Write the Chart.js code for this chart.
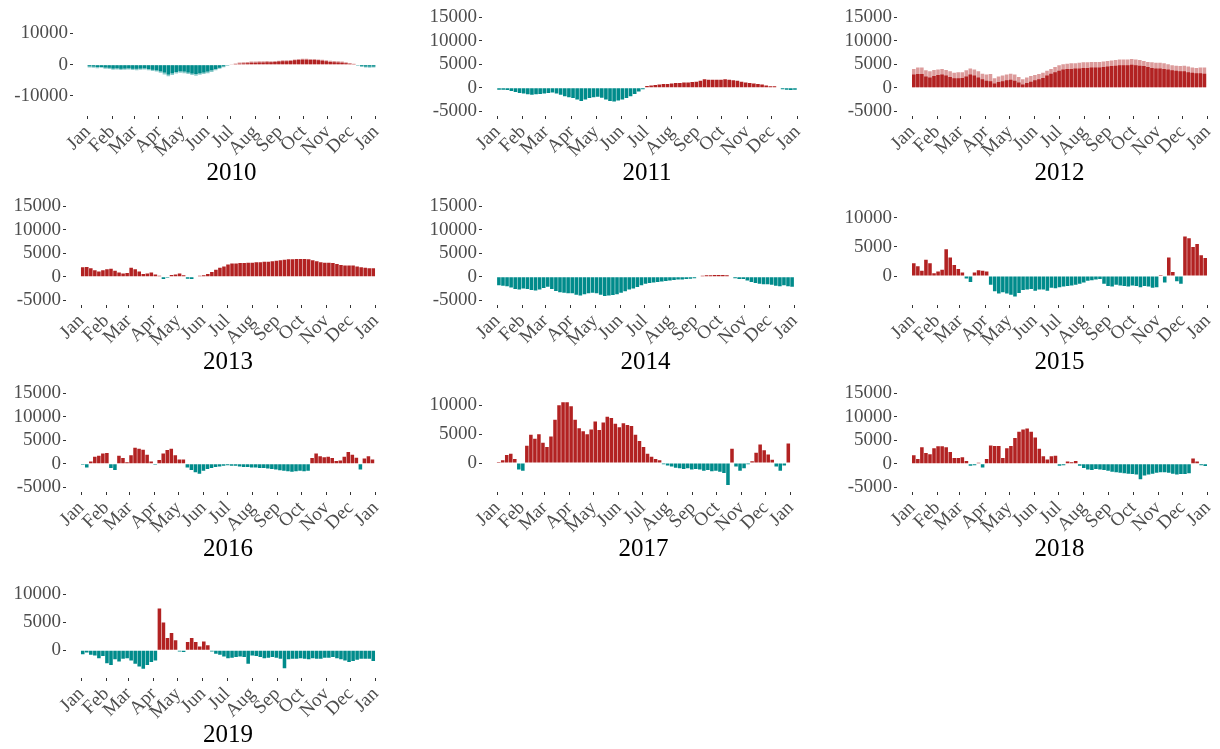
<!DOCTYPE html>
<html>
<head>
<meta charset="utf-8">
<script src="https://cdn.jsdelivr.net/npm/chart.js@4.4.1/dist/chart.umd.min.js"></script>
<style>
  html, body { margin: 0; padding: 0; background: #ffffff; }
  body { width: 1220px; height: 749px; position: relative; overflow: hidden; }
  canvas { position: absolute; }
</style>
</head>
<body>
<script>
// Month names for the x axis (13 ticks: Jan ... Dec, Jan of next year)
const monthLabels = ['Jan','Feb','Mar','Apr','May','Jun','Jul','Aug','Sep','Oct','Nov','Dec','Jan'];

// y-axis tick values
const ticksWide  = [-10000, 0, 10000];
const ticksTall  = [-5000, 0, 5000, 10000, 15000];
const ticksShort = [0, 5000, 10000];

// Values per 5-day period, 73 periods per year
const v2010 = [-900,-1000,-1100,-1000,-1300,-1400, -1600,-1500,-1700,-1600,-1500,-1700,
  -1800,-1600,-1500,-1800,-2000,-2200, -2600,-3100,-3700,-3300,-2800,-2600,
  -2700,-3000,-3300,-3500,-3200,-3000, -2700,-2300,-1800,-1300,-800,-400,
  200,400,700,800,900,1000, 1000,1100,1100,1200,1100,1200,
  1300,1400,1400,1500,1700,1800, 1900,1900,1800,1800,1700,1600,1400,
  1300,1200,1100,1000,800,500, 300,-400,-700,-900,-1000,-900];
const v2010Dense = [-500,-600,-700,-700,-900,-1000, -1200,-1100,-1300,-1200,-1100,-1300,
  -1300,-1200,-1100,-1400,-1600,-1800, -2100,-2500,-3100,-2700,-2300,-2100,
  -2200,-2500,-2800,-3000,-2700,-2500, -2200,-1800,-1400,-1000,-500,-200,
  0,100,300,400,500,600, 600,700,700,800,800,900,
  1000,1100,1100,1200,1400,1500, 1600,1600,1500,1500,1400,1300,1100,
  900,800,700,600,500,300, 100,-200,-400,-600,-600,-600];
const v2011 = [-400,-400,-500,-700,-900,-1100, -1200,-1400,-1500,-1400,-1300,-1200,
  -1100,-1000,-1200,-1500,-1800,-2000, -2200,-2500,-2800,-2500,-2200,-2000,
  -1900,-2100,-2500,-2800,-2900,-2700, -2500,-2200,-1800,-1300,-800,-300,
  400,500,600,700,800,800, 900,1000,1000,1100,1100,1200,
  1300,1500,1800,1700,1700,1700, 1700,1800,1700,1600,1500,1300,1100,
  1000,900,800,700,500,300, 300,100,-300,-400,-500,-400];
const v2012 = [4000,4300,4300,3700,3500,3800, 3900,4000,3800,3500,3200,3300,
  3300,3700,4100,3900,3500,3000, 2800,2900,2000,2400,2600,2800,
  3000,2800,2300,1800,2200,2500, 2700,2900,3200,3600,4000,4400,
  4800,5000,5100,5200,5200,5300, 5400,5400,5500,5500,5500,5600,
  5700,5800,5900,6000,6000,6000, 6100,6000,5900,5700,5500,5400,5300,
  5300,5200,5000,4800,4700,4600, 4700,4500,4300,4200,4300,4300];
const v2012Dense = [2800,2900,2900,2400,2200,2500, 2700,2800,2600,2300,2000,2000,
  2100,2400,2800,2600,2200,1800, 1500,1400,900,1200,1400,1600,
  1700,1500,1100,700,1000,1300, 1600,1800,2100,2600,3000,3300,
  3600,3900,4000,4000,4100,4100, 4200,4200,4300,4300,4300,4400,
  4500,4600,4700,4800,4800,4800, 4900,4800,4700,4600,4400,4200,4100,
  4100,4000,3900,3700,3600,3500, 3500,3300,3200,3100,3100,3000];
const v2013 = [2000,2100,1800,1400,1100,1400, 1600,1700,1300,900,700,800,
  1900,1600,1100,600,700,900, 500,200,-500,-200,400,500,
  700,300,-400,-500,100,200, 300,600,1000,1500,1900,2200,
  2600,2800,2800,2900,2900,3000, 3000,3100,3100,3200,3200,3300,
  3400,3500,3600,3700,3700,3800, 3800,3800,3700,3500,3300,3100,3000,
  3000,2900,2700,2500,2400,2400, 2400,2200,2000,1900,1800,1800];
const v2014 = [-1800,-1900,-2000,-2300,-2600,-2700, -2500,-2600,-2800,-2900,-2700,-2400,
  -2100,-2600,-3000,-3300,-3400,-3500, -3500,-3800,-4000,-3700,-3500,-3400,
  -3500,-3800,-4100,-4000,-3900,-3700, -3400,-3100,-2700,-2500,-2200,-1800,
  -1500,-1300,-1200,-1100,-1000,-900, -800,-700,-600,-600,-500,-400,
  -300,100,200,300,300,400, 400,400,300,100,-300,-500,-500,
  -800,-1100,-1300,-1500,-1600,-1600, -1700,-1900,-2000,-1800,-2000,-2100];
const v2015 = [2200,1700,900,2800,2200,500, 800,1100,4600,3200,1900,1200,
  600,-400,-1000,600,1000,900, 800,-1500,-2600,-3000,-2800,-3000,
  -3200,-3500,-2900,-2400,-2300,-2200, -2500,-2300,-2300,-2500,-2000,-2100,
  -1900,-1800,-1700,-1600,-1500,-1300, -1100,-800,-700,-600,-500,-1300,
  -1700,-1800,-1500,-1600,-1700,-1800, -1600,-1700,-1900,-1700,-1800,-2000,-1900,
  200,-1100,3200,700,-900,-1300, 6800,6500,5000,5500,3600,3100];
const v2016 = [-200,-800,500,1500,1700,2200, 2300,-900,-1300,1700,1200,300,
  1800,3400,3200,3000,1900,500, -200,800,2200,2900,3200,1800,
  900,900,-800,-1300,-1800,-2100, -1500,-1100,-900,-700,-600,-400,
  -300,-400,-400,-600,-700,-700, -800,-800,-900,-900,-1000,-1100,
  -1200,-1400,-1500,-1600,-1700,-1600, -1500,-1600,-1500,1200,2200,1600,1400,
  1500,1200,600,700,1500,2500, 1900,1300,-1200,1100,1600,900];
const v2017 = [200,500,1400,1600,700,-1100, -1300,3000,4900,4200,5000,3500,
  2800,4600,7500,10000,10500,10500, 9800,7500,6000,5500,5000,5800,
  7200,5700,7000,8000,7800,6800, 6200,6900,6600,6400,4900,3800,
  2800,1600,1100,700,500,-200, -400,-600,-800,-900,-1000,-900,
  -1100,-1000,-1100,-1300,-1200,-1400, -1300,-1500,-1700,-3800,2500,-600,-1300,
  -900,-200,300,1800,3200,2200, 1500,600,-600,-1300,-400,3400];
const v2018 = [1800,1000,3500,2300,2000,3300, 3700,3700,3500,2500,1200,1200,
  1400,600,-400,-300,200,-800, 1000,3900,3800,3800,1200,3300,
  3800,5500,6800,7300,7500,6800, 5600,3200,1600,900,1600,1700,
  -400,-300,500,300,600,-400, -900,-1200,-1300,-1100,-1200,-1300,
  -1500,-1700,-1800,-1900,-2000,-2100, -2200,-2300,-3300,-2500,-2300,-2100,-1900,
  -1800,-1800,-1900,-2100,-2300,-2200, -2200,-2000,1100,500,-300,-500];
const v2019 = [-700,-400,-800,-900,-1400,-1000, -2300,-2600,-1600,-2000,-1500,-1400,
  -1800,-2400,-2900,-3300,-2600,-2100, -1800,7500,5000,2200,3100,1800,
  -200,-300,1500,2200,1500,700, 1600,900,-200,-600,-800,-1100,
  -1400,-1300,-1200,-1100,-1200,-2400, -900,-1000,-1200,-1400,-1300,-1200,
  -1300,-1500,-3200,-1600,-1500,-1500, -1400,-1500,-1600,-1400,-1500,-1500,-1300,
  -1300,-1200,-1400,-1600,-1800,-2100, -1900,-1700,-1500,-1500,-1500,-1900];

const RED = '#B22222';
const TEAL = '#008B8B';
const RED_LIGHT = 'rgba(178,34,34,0.45)';
const TEAL_LIGHT = 'rgba(0,139,139,0.45)';
const FONT = '"Liberation Serif", "Times New Roman", serif';
const PERIOD = 5; // days per bar

// Panel frames: plot-area left/right/top in page pixels
const panels = [
  { year: 2010, series: [[v2010Dense, false], [v2010, true]], ticks: ticksWide,  yMin: -16400, yMax: 16400, L: 73,  R: 390,  T: 12 },
  { year: 2011, series: [[v2011, false]],                     ticks: ticksTall,  yMin: -6000,  yMax: 15800, L: 482, R: 812,  T: 12 },
  { year: 2012, series: [[v2012Dense, false], [v2012, true]], ticks: ticksTall,  yMin: -6000,  yMax: 15800, L: 897, R: 1222, T: 12 },
  { year: 2013, series: [[v2013, false]],                     ticks: ticksTall,  yMin: -6000,  yMax: 15800, L: 66,  R: 390,  T: 201 },
  { year: 2014, series: [[v2014, false]],                     ticks: ticksTall,  yMin: -6000,  yMax: 15800, L: 482, R: 809,  T: 201 },
  { year: 2015, series: [[v2015, false]],                     ticks: ticksShort, yMin: -4970,  yMax: 12660, L: 897, R: 1222, T: 201 },
  { year: 2016, series: [[v2016, false]],                     ticks: ticksTall,  yMin: -6000,  yMax: 15800, L: 66,  R: 390,  T: 388 },
  { year: 2017, series: [[v2017, false]],                     ticks: ticksShort, yMin: -4990,  yMax: 12730, L: 482, R: 805,  T: 388 },
  { year: 2018, series: [[v2018, false]],                     ticks: ticksTall,  yMin: -6000,  yMax: 15800, L: 897, R: 1222, T: 388 },
  { year: 2019, series: [[v2019, false]],                     ticks: ticksShort, yMin: -4940,  yMax: 13400, L: 66,  R: 390,  T: 574 }
];

const YW = 80, PADT = 12, PADR = 14, PH = 104, XH = 42, TH = 30;

function monthStartDays(year) {
  const jan1 = Date.UTC(year, 0, 1);
  const out = [];
  for (let m = 0; m <= 12; m++) out.push(Math.round((Date.UTC(year, m, 1) - jan1) / 86400000));
  return out;
}

function toPoints(vals) {
  return vals.map((v, i) => ({ x: PERIOD * i + (PERIOD - 1) / 2, y: v }));
}

panels.forEach(p => {
  const canvas = document.createElement('canvas');
  const w = YW + (p.R - p.L) + PADR;
  const h = PADT + PH + XH + TH;
  canvas.width = w; canvas.height = h;
  canvas.style.width = w + 'px'; canvas.style.height = h + 'px';
  canvas.style.left = (p.L - YW) + 'px';
  canvas.style.top = (p.T - PADT) + 'px';
  document.body.appendChild(canvas);

  const starts = monthStartDays(p.year);
  const days = starts[12];
  const pad = 0.05 * days;

  new Chart(canvas, {
    type: 'bar',
    data: {
      datasets: p.series.map(([vals, light]) => ({
        data: toPoints(vals),
        backgroundColor: ctx => {
          const y = ctx.raw ? ctx.raw.y : 0;
          if (y >= 0) return light ? RED_LIGHT : RED;
          return light ? TEAL_LIGHT : TEAL;
        },
        borderWidth: 0,
        grouped: false,
        categoryPercentage: 1,
        barPercentage: 0.88
      }))
    },
    options: {
      responsive: false,
      animation: false,
      devicePixelRatio: 1,
      events: [],
      layout: { padding: { top: PADT, right: PADR, left: 0, bottom: 0 } },
      plugins: {
        legend: { display: false },
        tooltip: { enabled: false },
        title: {
          display: true,
          text: String(p.year),
          position: 'bottom',
          fullSize: false,
          color: '#000000',
          font: { family: FONT, size: 25, weight: 'normal' },
          padding: { top: 0, bottom: 0 }
        }
      },
      scales: {
        x: {
          type: 'linear',
          offset: false,
          min: -0.5 - pad,
          max: days - 0.5 + pad,
          border: { display: false },
          grid: { offset: false, drawOnChartArea: false, tickLength: 3, color: '#333333' },
          ticks: {
            autoSkip: false,
            minRotation: 45,
            maxRotation: 45,
            padding: 2,
            color: '#4D4D4D',
            font: { family: FONT, size: 19 },
            callback: (v, i) => monthLabels[i]
          },
          afterBuildTicks: s => { s.ticks = starts.map(v => ({ value: v })); },
          afterFit: s => { s.height = XH; }
        },
        y: {
          min: p.yMin,
          max: p.yMax,
          border: { display: false },
          grid: { drawOnChartArea: false, tickLength: 3, color: '#333333' },
          ticks: {
            autoSkip: false,
            padding: 2,
            color: '#4D4D4D',
            font: { family: FONT, size: 19 },
            callback: v => String(v)
          },
          afterBuildTicks: s => { s.ticks = p.ticks.map(v => ({ value: v })); },
          afterFit: s => { s.width = YW; }
        }
      }
    }
  });
});
</script>
</body>
</html>
